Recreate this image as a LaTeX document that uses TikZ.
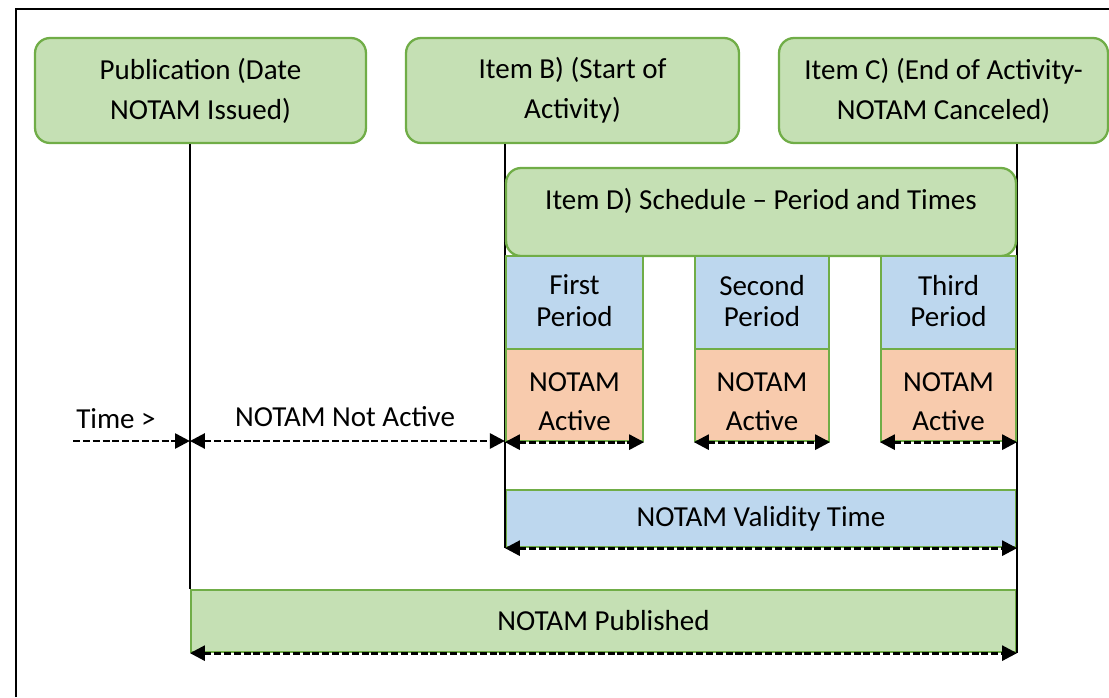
\documentclass[tikz,border=0pt]{standalone}
\usepackage{fontspec}
\setmainfont{Carlito}
\usepackage{tikz}
\usetikzlibrary{arrows.meta}

\definecolor{boxgreen}{HTML}{C5E0B4}
\definecolor{linegreen}{HTML}{70AD47}
\definecolor{boxblue}{HTML}{BDD7EE}
\definecolor{boxorange}{HTML}{F8CBAD}

\begin{document}
\begin{tikzpicture}[x=0.02cm,y=-0.02cm]
  \tikzset{itembox/.style = {shape=rectangle,draw=linegreen,fill=boxgreen,line width=1.3pt,rounded corners=0.3cm,align=center,font=\fontsize{16.5}{22.8}\selectfont}}
  \tikzset{bar/.style = {shape=rectangle,draw=linegreen,line width=1.3pt,align=center,inner sep=0pt,font=\fontsize{16.5}{18}\selectfont}}
  \tikzset{span/.style = {line width=1.6pt,dash pattern=on 4pt off 1.6pt,>={Triangle[length=8.5pt,width=8.5pt]}}}
  \tikzset{txt/.style = {font=\fontsize{16.5}{19}\selectfont}}

  \useasboundingbox (0,0) rectangle (1109,697);
  \draw[line width=1.2pt] (16,697) -- (16,9) -- (1109,9);

  % bars along the time axis
  \node[bar,fill=boxgreen,minimum width=16.5cm,minimum height=1.24cm] (publ) at (603.5,621) {NOTAM Published};
  \node[bar,fill=boxblue,minimum width=10.2cm,minimum height=1.14cm] (valid) at (761,518.5) {NOTAM Validity Time};

  % the three events
	\node[itembox,minimum width=6.62cm,minimum height=2.1cm] (pub) at (200.5,90.5) {Publication (Date\\NOTAM Issued)};
	\node[itembox,minimum width=6.66cm,minimum height=2.1cm] (itemb) at (572.5,90.5) {Item B) (Start of\\Activity)};
	\node[itembox,minimum width=6.58cm,minimum height=2.1cm] (itemc) at (943.5,90.5) {Item C) (End of Activity-\\NOTAM Canceled)};

  \draw[line width=1.5pt] (publ.north west |- pub.south) -- (publ.north west);
  \draw[line width=1.5pt] (valid.south west |- itemb.south) -- (valid.south west);
  \draw[line width=1.5pt] (publ.south east |- itemc.south) -- (publ.south east);

	\node[itembox,minimum width=10.2cm,minimum height=1.76cm] (itemd) at (761,212) {};
	\node[txt] (itemdtxt) at (761,201) {Item D) Schedule -- Period and Times};

  \foreach \n/\x/\w/\lab in {first/574.5/2.74/First, second/762/2.68/Second, third/948.5/2.7/Third} {
    \node[bar,fill=boxblue,minimum width=\w cm,minimum height=1.86cm,text depth=2pt] (p\n) at (\x,302.5) {\lab\\Period};
    \node[bar,fill=boxorange,minimum width=\w cm,minimum height=1.84cm,font=\fontsize{16.5}{22}\selectfont,text height=40pt,text depth=0pt] (a\n) at (\x,395) {NOTAM\\Active};
    \draw[span,<->] (a\n.south west) -- (a\n.south east);
  }

  \coordinate (tstart) at (73,441);
  \node[txt] (timelab) at (116,419) {Time >};
  \node[txt] (notactive) at (345,417) {NOTAM Not Active};
  \draw[span,->] (tstart) -- (tstart -| publ.west);
  \draw[span,<->] (tstart -| publ.west) -- (tstart -| valid.west);
  \draw[span,<->] (valid.south west) -- (valid.south east);
  \draw[span,<->] (publ.south west) -- (publ.south east);
\end{tikzpicture}
\end{document}
